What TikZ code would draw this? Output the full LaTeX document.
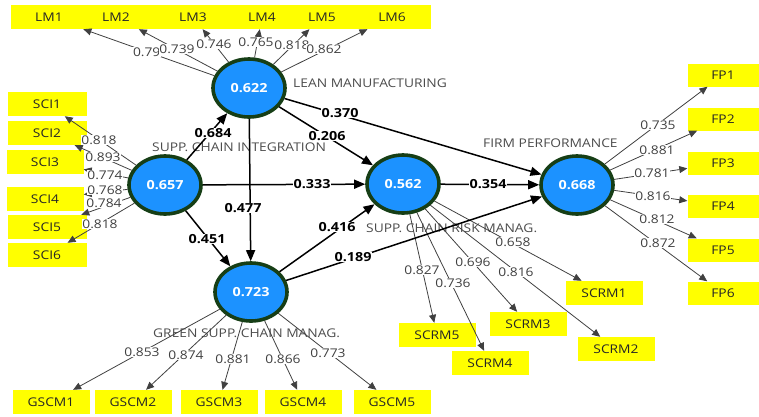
\documentclass[tikz,border=0pt]{standalone}
\usepackage{fontspec}
\setmainfont{Open Sans}[FakeStretch=1.15]
\usetikzlibrary{arrows.meta,shapes.geometric}
\definecolor{lvfill}{RGB}{28,146,255}
\definecolor{lvborder}{RGB}{22,62,22}
\definecolor{indfill}{RGB}{255,255,0}
\begin{document}
\begin{tikzpicture}[x=1pt,y=-1pt,
  ind/.style={fill=indfill, minimum width=77pt, minimum height=24pt, inner sep=0pt, text=black!85, font=\fontsize{12}{14}\selectfont},
  lv/.style={ellipse, draw=lvborder, line width=3.6pt, fill=lvfill, minimum width=72pt, minimum height=58pt, inner sep=0pt, text=white, font=\bfseries\fontsize{12.5}{14}\selectfont},
  load/.style={draw=black!75, line width=0.8pt, -{Triangle[length=8pt,width=7pt]}},
  pth/.style={draw=black, line width=1.5pt, -{Triangle[length=11pt,width=9pt]}},
  ll/.style={fill=white, inner sep=0.8pt, text=black!75, font=\fontsize{12}{14}\selectfont},
  pl/.style={fill=white, inner sep=0.8pt, text=black, font=\bfseries\fontsize{12.5}{14}\selectfont},
  cl/.style={anchor=west, inner sep=0pt, text=black!70, font=\fontsize{12}{14}\selectfont}]
\useasboundingbox (0,0) rectangle (759,416);
% indicator boxes
\node[ind] (LM1) at (49,17) {LM1};
\node[ind] (LM2) at (116,17) {LM2};
\node[ind] (LM3) at (193,17) {LM3};
\node[ind] (LM4) at (262,17) {LM4};
\node[ind] (LM5) at (322,17) {LM5};
\node[ind] (LM6) at (392,17) {LM6};
\node[ind, minimum width=79pt] (SCI1) at (47,104) {SCI1};
\node[ind, minimum width=79pt] (SCI2) at (47,133) {SCI2};
\node[ind] (SCI3) at (45,162) {SCI3};
\node[ind] (SCI4) at (45,199) {SCI4};
\node[ind, minimum width=79pt] (SCI5) at (47,227) {SCI5};
\node[ind, minimum width=79pt] (SCI6) at (47,255) {SCI6};
\node[ind, minimum width=71pt, minimum height=23pt] (FP1) at (723,75) {FP1};
\node[ind, minimum width=71pt, minimum height=23pt] (FP2) at (723,119) {FP2};
\node[ind, minimum width=71pt, minimum height=23pt] (FP3) at (723,163) {FP3};
\node[ind, minimum width=71pt, minimum height=23pt] (FP4) at (723,206) {FP4};
\node[ind, minimum width=71pt, minimum height=23pt] (FP5) at (723,250) {FP5};
\node[ind, minimum width=71pt, minimum height=23pt] (FP6) at (723,293) {FP6};
\node[ind] (SCRM1) at (604,293) {SCRM1};
\node[ind] (SCRM2) at (616,349) {SCRM2};
\node[ind] (SCRM3) at (528,324) {SCRM3};
\node[ind] (SCRM4) at (490,363) {SCRM4};
\node[ind] (SCRM5) at (437,335) {SCRM5};
\node[ind] (GSCM1) at (51,402) {GSCM1};
\node[ind] (GSCM2) at (133,402) {GSCM2};
\node[ind] (GSCM3) at (219,402) {GSCM3};
\node[ind] (GSCM4) at (303,402) {GSCM4};
\node[ind] (GSCM5) at (392,402) {GSCM5};
% construct labels
\node[cl] (tLM) at (293,83) {LEAN MANUFACTURING};
\node[cl] (tSCI) at (152,147) {SUPP. CHAIN INTEGRATION};
\node[cl] (tFP) at (483,143) {FIRM PERFORMANCE};
\node[cl] (tSCRM) at (366,228) {SUPP. CHAIN RISK MANAG.};
\node[cl] (tGSCM) at (153,333) {GREEN SUPP. CHAIN MANAG.};
% latent variables
\node[lv] (lm) at (249,88) {0.622};
\node[lv] (sci) at (165,185) {0.657};
\node[lv] (scrm) at (403,184) {0.562};
\node[lv] (fp) at (577,185) {0.668};
\node[lv] (gscm) at (251,292) {0.723};
% loadings
\foreach \t in {LM1,LM2,LM3,LM4,LM5,LM6} \draw[load] (lm) -- (\t);
\foreach \t in {SCI1,SCI2,SCI3,SCI4,SCI5,SCI6} \draw[load] (sci) -- (\t);
\foreach \t in {FP1,FP2,FP3,FP4,FP5,FP6} \draw[load] (fp) -- (\t);
\foreach \t in {SCRM1,SCRM2,SCRM3,SCRM4,SCRM5} \draw[load] (scrm) -- (\t);
\foreach \t in {GSCM1,GSCM2,GSCM3,GSCM4,GSCM5} \draw[load] (gscm) -- (\t);
% structural paths
\draw[pth] (sci) -- (lm);
\draw[pth] (sci) -- (scrm);
\draw[pth] (sci) -- (gscm);
\draw[pth] (lm) -- (gscm);
\draw[pth] (lm) -- (scrm);
\draw[pth] (lm) -- (fp);
\draw[pth] (scrm) -- (fp);
\draw[pth] (gscm) -- (scrm);
\draw[pth] (gscm) -- (fp);
% loading labels
\node[ll, anchor=west] (a1) at (132,52) {0.79};
\node[ll] (a2) at (177,49) {0.739};
\node[ll] (a3) at (214,44) {0.746};
\node[ll] (a4) at (256,42) {0.765};
\node[ll] (a5) at (292,45) {0.818};
\node[ll] (a6) at (324,49) {0.862};
\node[ll] (b1) at (99,140) {0.818};
\node[ll] (b2) at (103,157) {0.893};
\node[ll] (b3) at (105,175) {0.774};
\node[ll] (b4) at (105,190) {0.768};
\node[ll] (b5) at (104,203) {0.784};
\node[ll] (b6) at (100,224) {0.818};
\node[ll] (c1) at (658,125) {0.735};
\node[ll] (c2) at (657,150) {0.881};
\node[ll] (c3) at (652,173) {0.781};
\node[ll] (c4) at (653,196) {0.816};
\node[ll] (c5) at (657,219) {0.812};
\node[ll] (c6) at (658,243) {0.872};
\node[ll] (d1) at (513,242) {0.658};
\node[ll] (d2) at (516,272) {0.816};
\node[ll] (d3) at (473,262) {0.696};
\node[ll] (d4) at (453,283) {0.736};
\node[ll] (d5) at (422,270) {0.827};
\node[ll] (e1) at (142,352) {0.853};
\node[ll] (e2) at (186,355) {0.874};
\node[ll] (e3) at (233,359) {0.881};
\node[ll] (e4) at (283,359) {0.866};
\node[ll] (e5) at (328,353) {0.773};
% path labels
\node[pl] (p1) at (213,133) {0.684};
\node[pl] (p2) at (340,113) {0.370};
\node[pl] (p3) at (327,136) {0.206};
\node[pl] (p4) at (312,184) {0.333};
\node[pl] (p5) at (488,184) {0.354};
\node[pl] (p6) at (243,208) {0.477};
\node[pl] (p7) at (207,239) {0.451};
\node[pl] (p8) at (337,227) {0.416};
\node[pl] (p9) at (353,257) {0.189};
\end{tikzpicture}
\end{document}
